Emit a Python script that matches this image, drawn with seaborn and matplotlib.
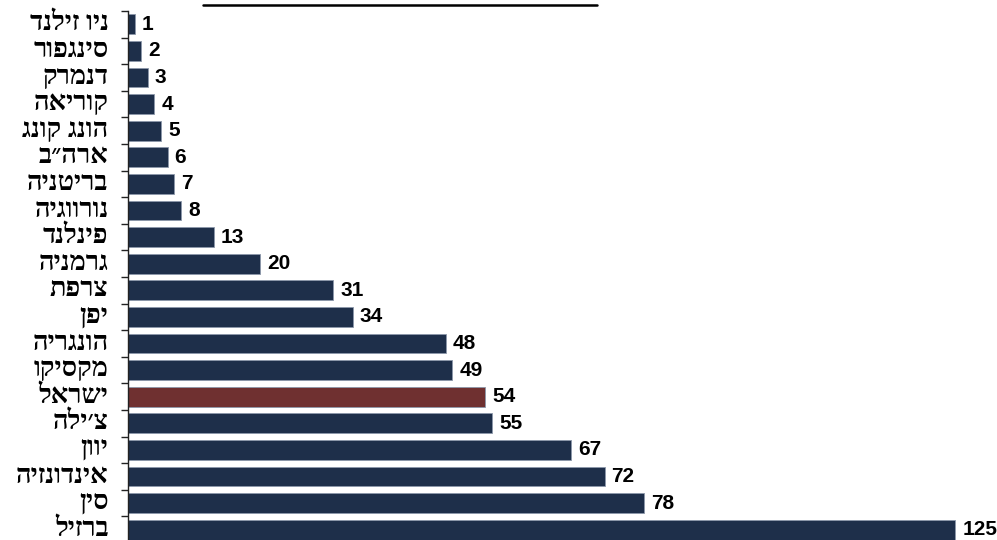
import matplotlib
matplotlib.use("Agg")
import matplotlib.pyplot as plt
import matplotlib.transforms as mtransforms
from matplotlib.lines import Line2D
import seaborn as sns
import pandas as pd
import numpy as np

# Countries (logical Hebrew order) and values, top to bottom
countries = ["ניו זילנד", "סינגפור", "דנמרק", "קוריאה", "הונג קונג", "ארה״ב",
             "בריטניה", "נורווגיה", "פינלנד", "גרמניה", "צרפת", "יפן",
             "הונגריה", "מקסיקו", "ישראל", "צ׳ילה", "יוון", "אינדונזיה",
             "סין", "ברזיל"]
values = [1, 2, 3, 4, 5, 6, 7, 8, 13, 20, 31, 34, 48, 49, 54, 55, 67, 72, 78, 125]
highlight = "ישראל"

NAVY = "#1E2F4A"
RED = "#6F3030"

sns.set_theme(style="white")
plt.rcParams["font.family"] = ["Liberation Serif", "DejaVu Sans"]

# matplotlib lays text out left-to-right, so Hebrew is reversed for display
display = [c[::-1] for c in countries]
df = pd.DataFrame({"country": display, "value": values})
palette = {d: (RED if c == highlight else NAVY) for c, d in zip(countries, display)}

fig = plt.figure(figsize=(9.97, 5.40), dpi=100)
ax = fig.add_axes([128 / 997, 1 - 543 / 540, 1 - 128 / 997, 532 / 540])

sns.barplot(data=df, x="value", y="country", hue="country", palette=palette,
            legend=False, width=0.75, edgecolor="#8C98AA", linewidth=0.6,
            saturation=1, ax=ax)

ax.set_xlim(0, 131.3)
ax.set_ylim(len(values) - 0.5, -0.5)
ax.set_xlabel("")
ax.set_ylabel("")
ax.set_xticks([])

for s in ["top", "right", "bottom"]:
    ax.spines[s].set_visible(False)
ax.spines["left"].set_color("#222222")
ax.spines["left"].set_linewidth(1.0)

# category labels centred, tick marks on the category boundaries
ax.set_yticks(np.arange(len(values)))
ax.set_yticklabels(display, fontsize=19.5, fontweight="bold", color="black",
                   family=["Liberation Serif", "DejaVu Sans"])
ax.tick_params(axis="y", which="major", length=0, pad=14)
lift = mtransforms.ScaledTranslation(0, 2.5 / 72, fig.dpi_scale_trans)
for lbl in ax.get_yticklabels():
    lbl.set_transform(lbl.get_transform() + lift)
ax.set_yticks(np.arange(-0.5, len(values), 1.0), minor=True)
ax.tick_params(axis="y", which="minor", length=5, width=1.0, color="#222222",
               direction="out", left=True)

for i, v in enumerate(values):
    ax.annotate(f"{v}", xy=(v, i), xytext=(5, 0), textcoords="offset points",
                va="center", ha="left", fontsize=15, fontweight="bold",
                family="Liberation Sans", color="black")

# underline of the heading above the plot
fig.add_artist(Line2D([203 / 997, 597 / 997], [1 - 5 / 540, 1 - 5 / 540],
                      color="black", linewidth=1.8))

fig.savefig("out.png", dpi=100)
